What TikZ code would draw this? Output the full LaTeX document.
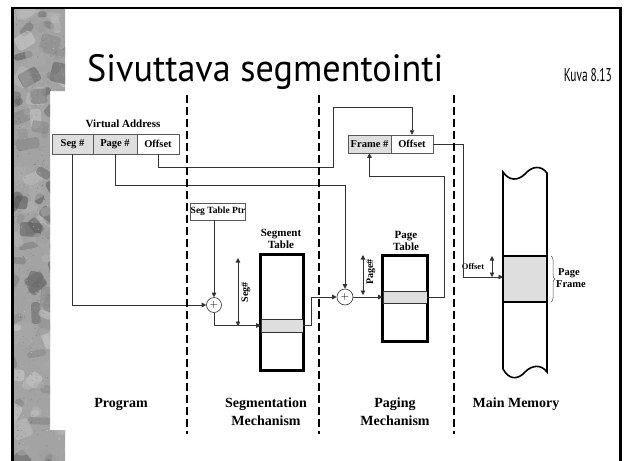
\documentclass[tikz,border=0pt]{standalone}
\usepackage{fontspec}
\setmainfont{Liberation Serif}
\newfontfamily\titlefont{PT Sans}
\usetikzlibrary{arrows.meta,decorations.pathreplacing}
\begin{document}
\begin{tikzpicture}[x=1pt,y=-1pt,
  conn/.style={draw=black!80,line width=0.6pt},
  arr/.style={conn,-{Triangle[length=4.5pt,width=4.5pt]}},
  dimarr/.style={conn,{Triangle[length=4.5pt,width=4.5pt]}-{Triangle[length=4.5pt,width=4.5pt]}},
  field/.style={draw=black!65,line width=0.5pt,inner sep=0pt,minimum height=20pt,
    font=\fontsize{10.5}{12}\selectfont\bfseries},
  shaded/.style={fill=black!13},
  tablebox/.style={draw=black,line width=1.6pt,fill=white,inner sep=0pt},
  band/.style={draw=black!80,line width=0.6pt,fill=black!13,inner sep=0pt},
  sep/.style={line width=2.8pt,dash pattern=on 8pt off 4pt},
  lbl/.style={font=\fontsize{11}{12.5}\selectfont\bfseries,align=center,inner sep=0pt},
  small/.style={font=\fontsize{8.5}{10}\selectfont\bfseries,inner sep=0pt},
  big/.style={font=\fontsize{14}{18}\selectfont\bfseries,align=center,inner sep=0pt},
  adder/.style={circle,draw=black!80,line width=0.6pt,fill=white,minimum size=15pt,
    inner sep=0pt,font=\fontsize{11}{11}\selectfont}]

\useasboundingbox (0,0) rectangle (625,461);

% textured side strip: grey base with soft irregular patches and fine grain
\begin{scope}
  \clip (13,8) -- (65,8) -- (65,91) -- (50,91) -- (50,430) -- (65,430) -- (65,461) -- (13,461) -- cycle;
  \fill[black!36] (0,0) rectangle (70,461);
  \pgfmathsetseed{11}
  \foreach \i in {1,...,150}{
    \pgfmathsetmacro\px{4+66*rnd}
    \pgfmathsetmacro\py{0+461*rnd}
    \pgfmathsetmacro\pv{18+50*rnd}
    \pgfmathsetmacro\pw{6+14*rnd}
    \pgfmathsetmacro\ph{6+18*rnd}
    \pgfmathsetmacro\pa{360*rnd}
    \fill[black!\pv,opacity=0.55,rotate around={\pa:(\px,\py)}, rounded corners=3pt]
      (\px,\py) rectangle ++(\pw,\ph);
  }
  \foreach \i in {1,...,900}{
    \pgfmathsetmacro\px{10+58*rnd}
    \pgfmathsetmacro\py{5+456*rnd}
    \pgfmathsetmacro\pv{15+50*rnd}
    \fill[black!\pv,opacity=0.5] (\px,\py) circle[radius=0.6pt];
  }
\end{scope}

% slide frame
\draw[line width=2.2pt] (12.5,461) -- (12.5,8) -- (620.5,8) -- (620.5,461);

% headings
\node[anchor=base west,inner sep=0pt,font=\titlefont\fontsize{38}{40}\selectfont] (title) at (87,81)
  {\resizebox{356pt}{\height}{Sivuttava segmentointi}};
\node[anchor=base east,inner sep=0pt,font=\titlefont\fontsize{18.5}{20}\selectfont] (kuva) at (612,81)
  {\resizebox{48pt}{\height}{Kuva 8.13}};

% virtual address
\node[lbl] (valbl) at (123,124) {Virtual Address};
\node[field,shaded,minimum width=41pt] (vseg) at (72.5,144) {Seg \#};
\node[field,shaded,minimum width=44pt] (vpage) at (115,144) {Page \#};
\node[field,minimum width=42pt] (voff) at (158,144) {Offset};

% segmentation mechanism
\node[field,minimum width=52pt,minimum height=17pt,font=\fontsize{9.5}{11}\selectfont\bfseries] (stp) at (218,211.5) {Seg Table Ptr};
\node[adder] (add1) at (214,305) {$+$};
\node[lbl] (stlbl) at (281,239) {Segment\\Table};
\node[tablebox,minimum width=42pt,minimum height=115pt] (stab) at (282,312.5) {};
\node[band,minimum width=42pt,minimum height=13pt] (sband) at (282,325.5) {};
\draw[line width=1.6pt] (stab.north west) rectangle (stab.south east);

% paging mechanism
\node[adder,minimum size=16pt] (add2) at (345,297) {$+$};
\node[lbl] (ptlbl) at (406,241) {Page\\Table};
\node[tablebox,minimum width=44pt,minimum height=85pt] (ptab) at (405,298.5) {};
\node[band,minimum width=44pt,minimum height=12pt] (pband) at (405,297) {};
\draw[line width=1.6pt] (ptab.north west) rectangle (ptab.south east);

% real address
\node[field,shaded,minimum width=43pt,minimum height=18pt] (rframe) at (369.5,144) {Frame \#};
\node[field,minimum width=42pt,minimum height=18pt] (roff) at (412,144) {Offset};

% main memory column with torn ends
\path[draw=black,line width=1.6pt,fill=white]
  (503,172) .. controls (509,181) and (518,181) .. (525,174)
            .. controls (532,166) and (541,165) .. (547,173)
  -- (547,372)
  .. controls (541,364) and (532,365) .. (525,372)
  .. controls (518,380) and (509,380) .. (503,369) -- cycle;
\node[draw=black,line width=1.6pt,fill=black!13,minimum width=44pt,minimum height=46pt,inner sep=0pt] (pframe) at (525,279) {};
\node[small] (mofflbl) at (473,267) {Offset};
\draw[decorate,decoration={brace,amplitude=4pt},line width=0.5pt,draw=black!70] (551,256) -- (551,302);
\node[font=\fontsize{10.5}{12.5}\selectfont\bfseries,align=left,inner sep=0pt] (pflbl) at (571,278) {\hspace*{2pt}Page\\Frame};

% helper points of the routes
\coordinate (pj) at (345,185);
\coordinate (oj1) at (333,167);
\coordinate (oj2) at (412,107);
\coordinate (fk) at (444,176);
\coordinate (mj) at (463,277);
\coordinate (memin) at (503,277);
\coordinate (sdtop) at (238,258);
\coordinate (sdbot) at (238,326);
\coordinate (pdtop) at (363,255);
\coordinate (pdbot) at (363,295);
\coordinate (odtop) at (492,256);
\coordinate (odbot) at (492,277);

% connectors
\draw[arr] (vseg.south) |- (add1.west);
\draw[arr] (add1.north |- stp.south) -- (add1.north);
\draw[arr] (add1.south) |- (sband.west);
\draw[arr] (sband.east) -- ++(8,0) |- (add2.west);
\draw[arr] (vpage.south) |- (pj) -- (add2.north);
\draw[arr] (add2.east) -- (pband.west);
\draw[arr] (pband.east) -| (fk) -| (rframe.south);
\draw[arr] (voff.south) |- (oj1) |- (oj2) -- (roff.north);
\draw[arr] (roff.east) -| (mj) -- (memin);

% index arrows
\draw[dimarr] (sdtop) -- (sdbot);
\node[lbl,rotate=90,font=\fontsize{10}{11}\selectfont\bfseries] (seglbl) at (246,292) {Seg\#};
\draw[dimarr] (pdtop) -- (pdbot);
\node[lbl,rotate=90,font=\fontsize{10}{11}\selectfont\bfseries] (pagelbl) at (371,272) {Page\#};
\draw[dimarr] (odtop) -- (odbot);

% separators between the stages
\draw[sep] (187,95) -- (187,434);
\draw[sep] (319,95) -- (319,434);
\draw[sep] (454,95) -- (454,434);

% stage names
\node[big] (prog) at (121,404) {Program};
\node[big] (segm) at (266,412) {Segmentation\\Mechanism};
\node[big] (pagm) at (395,412) {Paging\\Mechanism};
\node[big] (mmem) at (516,404) {Main Memory};
\end{tikzpicture}
\end{document}
